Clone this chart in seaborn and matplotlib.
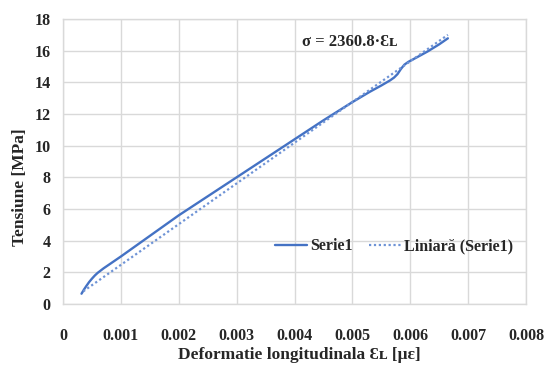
import matplotlib
matplotlib.use("Agg")
import matplotlib.pyplot as plt
import seaborn as sns
import pandas as pd
import numpy as np

# ---- data ----
strain = [0.00032, 0.00036, 0.00040, 0.00045, 0.00050, 0.00055, 0.00060, 0.00070, 0.00080,
          0.00100, 0.00150, 0.00200, 0.00250, 0.00300, 0.00350, 0.00400, 0.00450, 0.00500,
          0.00530, 0.00550, 0.00565, 0.00572, 0.00578, 0.00584, 0.00590, 0.00597, 0.00610,
          0.00630, 0.00650, 0.00665]
stress = [0.65, 0.90, 1.12, 1.38, 1.60, 1.80, 1.97, 2.25, 2.50,
          3.00, 4.30, 5.60, 6.80, 8.00, 9.20, 10.40, 11.60, 12.75,
          13.40, 13.80, 14.12, 14.30, 14.52, 14.85, 15.12, 15.30, 15.55,
          15.95, 16.40, 16.78]
trend_strain = [0.00035, 0.00665]
trend_stress = [0.80, 17.00]

x_ticks = [0, 0.001, 0.002, 0.003, 0.004, 0.005, 0.006, 0.007, 0.008]
x_tick_labels = ["0", "0.001", "0.002", "0.003", "0.004", "0.005", "0.006", "0.007", "0.008"]
y_ticks = [0, 2, 4, 6, 8, 10, 12, 14, 16, 18]

series_name = "Serie1"
trend_name = "Liniară (Serie1)"
equation = "σ = 2360.8·Ɛʟ"
x_title = "Deformatie longitudinala Ɛʟ [με]"
y_title = "Tensiune [MPa]"

# ---- styling ----
sns.set_style("white")
plt.rcParams["font.family"] = ["Liberation Serif", "DejaVu Serif"]
plt.rcParams["font.weight"] = "bold"

blue = "#4472C4"
grid_c = "#D9D9D9"

fig = plt.figure(figsize=(5.51, 3.67), dpi=100)
ax = fig.add_axes([63/551, 1 - 304/367, 463/551, 285/367])

df = pd.DataFrame({"x": strain, "y": stress})
dft = pd.DataFrame({"x": trend_strain, "y": trend_stress})

sns.lineplot(data=df, x="x", y="y", ax=ax, color=blue, linewidth=1.7,
             label=series_name, sort=False)
sns.lineplot(data=dft, x="x", y="y", ax=ax, color="#6E93D6", linewidth=1.6,
             linestyle=(0, (1, 1.2)), label=trend_name, sort=False)

ax.set_xlim(0, 0.008)
ax.set_ylim(0, 18)
ax.set_xticks(x_ticks)
ax.set_xticklabels(x_tick_labels)
ax.set_yticks(y_ticks)
ax.grid(True, color=grid_c, linewidth=1.0)
ax.set_axisbelow(True)
for s in ax.spines.values():
    s.set_color(grid_c)
    s.set_linewidth(1.0)
ax.tick_params(axis="both", length=0, labelsize=11.5)
ax.tick_params(axis="x", pad=17)
ax.tick_params(axis="y", pad=9)
for lab in ax.get_xticklabels() + ax.get_yticklabels():
    lab.set_fontweight("bold")

ax.set_xlabel(x_title, fontsize=12.5, fontweight="bold")
ax.set_ylabel(y_title, fontsize=12.5, fontweight="bold")
ax.xaxis.set_label_coords(0.51, -0.152)
ax.yaxis.set_label_coords(-0.076, 0.41)

ax.text(0.00496, 16.55, equation, fontsize=12, fontweight="bold",
        ha="center", va="center")

leg = ax.legend(loc="center", bbox_to_anchor=(0.715, 0.203), ncol=2, frameon=False,
                handlelength=2.0, handletextpad=0.2, columnspacing=1.0,
                prop={"weight": "bold", "size": 11.5})

fig.savefig("out.png", dpi=100)
